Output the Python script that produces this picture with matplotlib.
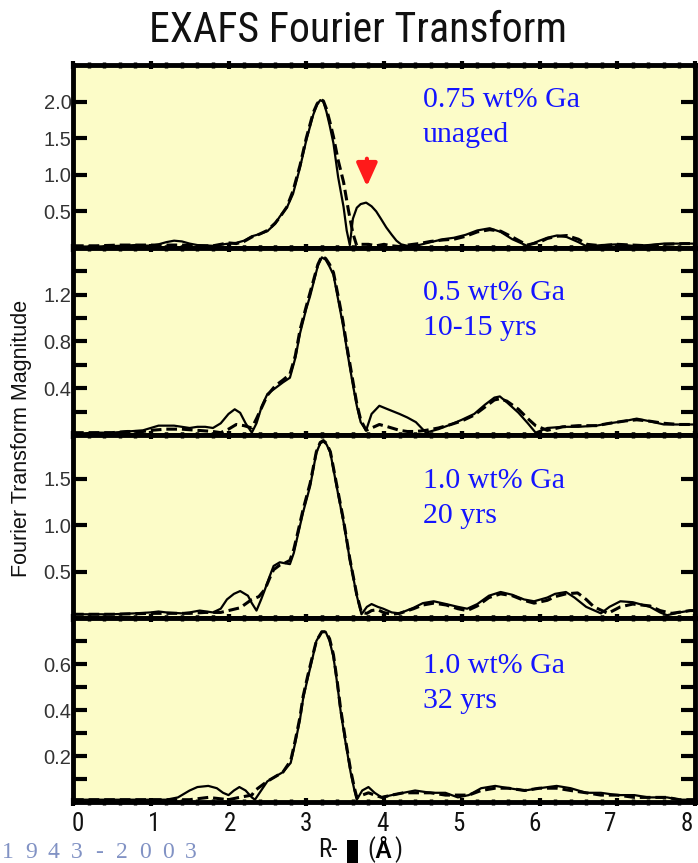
import matplotlib
matplotlib.use('Agg')
import matplotlib.pyplot as plt
from matplotlib.patches import Rectangle
from matplotlib import font_manager as fm
from matplotlib import transforms as mtrans

# ---------------- data ----------------
p1_r_solid = [0, 0.3, 0.6, 0.8, 1.0, 1.1, 1.2, 1.3, 1.4, 1.5, 1.6, 1.8, 2.0, 2.1, 2.2, 2.3, 2.4, 2.5, 2.6, 2.66,
              2.75, 2.83, 2.92, 3.0, 3.09, 3.14, 3.18, 3.22, 3.26, 3.3, 3.35, 3.41, 3.48, 3.52, 3.56, 3.6, 3.65,
              3.7, 3.77, 3.84, 3.9, 3.96, 4.03, 4.1, 4.16, 4.22, 4.3, 4.45, 4.6, 4.76, 4.9, 5.05, 5.2, 5.36, 5.5,
              5.65, 5.84, 6.0, 6.1, 6.22, 6.35, 6.5, 6.61, 6.8, 7.0, 7.2, 7.4, 7.6, 7.85, 8.0]
p1_m_solid = [0.02, 0.02, 0.03, 0.04, 0.03, 0.05, 0.08, 0.10, 0.09, 0.06, 0.04, 0.03, 0.06, 0.07, 0.10, 0.16, 0.19,
              0.23, 0.33, 0.43, 0.55, 0.74, 1.10, 1.47, 1.82, 1.96, 2.02, 2.00, 1.86, 1.68, 1.43, 0.97, 0.56, 0.24,
              0.04, 0.40, 0.55, 0.60, 0.62, 0.57, 0.50, 0.40, 0.28, 0.18, 0.10, 0.05, 0.03, 0.04, 0.08, 0.12, 0.14,
              0.18, 0.24, 0.27, 0.22, 0.12, 0.03, 0.10, 0.14, 0.17, 0.15, 0.08, 0.02, 0.04, 0.05, 0.03, 0.04, 0.06,
              0.06, 0.06]
p1_r_fit = [0, 0.3, 0.6, 0.8, 1.0, 1.2, 1.4, 1.6, 1.8, 2.0, 2.1, 2.2, 2.3, 2.4, 2.5, 2.6, 2.66, 2.75, 2.83, 2.92,
            3.0, 3.09, 3.14, 3.18, 3.22, 3.26, 3.3, 3.35, 3.41, 3.48, 3.54, 3.6, 3.65, 3.7, 3.8, 3.9, 4.0, 4.1, 4.2,
            4.3, 4.45, 4.6, 4.76, 4.9, 5.05, 5.2, 5.36, 5.5, 5.65, 5.84, 6.0, 6.1, 6.22, 6.35, 6.5, 6.61, 6.8, 7.0,
            7.2, 7.4, 7.6, 7.85, 8.0]
p1_m_fit = [0.03, 0.03, 0.04, 0.04, 0.04, 0.04, 0.04, 0.03, 0.03, 0.07, 0.06, 0.09, 0.15, 0.19, 0.24, 0.34, 0.42,
            0.56, 0.78, 1.13, 1.50, 1.85, 1.97, 2.03, 2.01, 1.90, 1.74, 1.52, 1.20, 0.90, 0.53, 0.20, 0.03, 0.05,
            0.05, 0.03, 0.05, 0.03, 0.02, 0.04, 0.06, 0.09, 0.11, 0.12, 0.16, 0.22, 0.25, 0.23, 0.15, 0.04, 0.08,
            0.13, 0.16, 0.17, 0.12, 0.05, 0.03, 0.05, 0.04, 0.03, 0.05, 0.06, 0.06]

p2_r_solid = [0, 0.3, 0.5, 0.7, 0.9, 1.0, 1.1, 1.2, 1.3, 1.4, 1.5, 1.6, 1.7, 1.8, 1.9, 2.0, 2.08, 2.15, 2.22, 2.3,
              2.36, 2.43, 2.5, 2.6, 2.7, 2.79, 2.86, 2.92, 3.0, 3.05, 3.1, 3.15, 3.2, 3.25, 3.3, 3.35, 3.41, 3.47,
              3.53, 3.6, 3.65, 3.7, 3.77, 3.84, 3.94, 4.05, 4.2, 4.3, 4.41, 4.54, 4.7, 4.86, 5.0, 5.16, 5.3, 5.42,
              5.49, 5.58, 5.73, 5.85, 5.95, 6.1, 6.3, 6.5, 6.73, 6.9, 7.1, 7.25, 7.4, 7.6, 7.8, 8.0]
p2_m_solid = [0.01, 0.02, 0.02, 0.03, 0.04, 0.06, 0.08, 0.08, 0.08, 0.07, 0.06, 0.07, 0.07, 0.06, 0.10, 0.18, 0.22,
              0.19, 0.10, 0.02, 0.10, 0.25, 0.35, 0.40, 0.45, 0.49, 0.66, 0.87, 1.08, 1.19, 1.32, 1.45, 1.52, 1.50,
              1.44, 1.37, 1.16, 0.95, 0.70, 0.43, 0.25, 0.11, 0.04, 0.18, 0.25, 0.22, 0.18, 0.15, 0.11, 0.02, 0.05,
              0.09, 0.13, 0.18, 0.26, 0.32, 0.33, 0.28, 0.19, 0.10, 0.02, 0.06, 0.07, 0.07, 0.08, 0.10, 0.12, 0.14,
              0.12, 0.09, 0.09, 0.09]
p2_r_fit = [0, 0.3, 0.5, 0.7, 0.9, 1.0, 1.2, 1.4, 1.6, 1.8, 1.9, 2.0, 2.1, 2.2, 2.3, 2.36, 2.43, 2.5, 2.6, 2.7,
            2.79, 2.86, 2.92, 3.0, 3.05, 3.1, 3.15, 3.2, 3.25, 3.3, 3.35, 3.41, 3.47, 3.53, 3.6, 3.65, 3.7, 3.77,
            3.84, 3.94, 4.05, 4.2, 4.3, 4.41, 4.54, 4.7, 4.86, 5.0, 5.16, 5.3, 5.42, 5.49, 5.58, 5.73, 5.85, 5.95,
            6.1, 6.3, 6.5, 6.73, 6.9, 7.1, 7.25, 7.4, 7.6, 7.8, 8.0]
p2_m_fit = [0.02, 0.02, 0.02, 0.03, 0.03, 0.04, 0.05, 0.05, 0.04, 0.03, 0.02, 0.05, 0.09, 0.08, 0.06, 0.14, 0.24,
            0.34, 0.42, 0.47, 0.52, 0.68, 0.90, 1.10, 1.22, 1.34, 1.46, 1.53, 1.51, 1.46, 1.39, 1.19, 0.98, 0.73,
            0.46, 0.27, 0.13, 0.04, 0.06, 0.09, 0.07, 0.04, 0.03, 0.03, 0.04, 0.06, 0.09, 0.12, 0.17, 0.24, 0.30,
            0.31, 0.29, 0.22, 0.14, 0.08, 0.04, 0.07, 0.08, 0.08, 0.10, 0.12, 0.13, 0.12, 0.10, 0.09, 0.09]

p3_r_solid = [0, 0.5, 0.8, 1.0, 1.1, 1.2, 1.4, 1.5, 1.63, 1.8, 1.9, 1.98, 2.07, 2.15, 2.25, 2.3, 2.36, 2.42, 2.47,
              2.53, 2.58, 2.66, 2.72, 2.79, 2.84, 2.88, 2.96, 3.05, 3.13, 3.18, 3.22, 3.26, 3.31, 3.39, 3.48, 3.56,
              3.65, 3.71, 3.78, 3.84, 3.92, 3.99, 4.1, 4.2, 4.38, 4.5, 4.64, 4.8, 4.95, 5.07, 5.2, 5.35, 5.5, 5.65,
              5.8, 5.93, 6.1, 6.2, 6.34, 6.45, 6.6, 6.79, 6.9, 7.04, 7.2, 7.42, 7.55, 7.64, 7.8, 7.94, 8.0]
p3_m_solid = [0.04, 0.04, 0.05, 0.06, 0.07, 0.06, 0.05, 0.06, 0.08, 0.06, 0.10, 0.20, 0.26, 0.29, 0.24, 0.16, 0.08,
              0.20, 0.31, 0.45, 0.56, 0.60, 0.59, 0.58, 0.70, 0.85, 1.14, 1.42, 1.78, 1.88, 1.90, 1.87, 1.78, 1.42,
              1.03, 0.63, 0.24, 0.04, 0.12, 0.15, 0.12, 0.10, 0.06, 0.05, 0.11, 0.16, 0.18, 0.15, 0.12, 0.10, 0.15,
              0.24, 0.28, 0.25, 0.20, 0.18, 0.22, 0.26, 0.28, 0.22, 0.12, 0.05, 0.12, 0.18, 0.17, 0.12, 0.06, 0.03,
              0.06, 0.08, 0.08]
p3_r_fit = [0, 0.5, 1.0, 1.2, 1.5, 1.7, 1.9, 2.0, 2.15, 2.3, 2.39, 2.47, 2.53, 2.58, 2.66, 2.72, 2.79, 2.84, 2.88,
            2.96, 3.05, 3.13, 3.18, 3.22, 3.26, 3.31, 3.39, 3.48, 3.56, 3.65, 3.71, 3.78, 3.84, 3.92, 3.99, 4.1,
            4.2, 4.38, 4.5, 4.64, 4.8, 4.95, 5.07, 5.2, 5.35, 5.5, 5.65, 5.8, 5.93, 6.1, 6.2, 6.34, 6.49, 6.6, 6.7,
            6.88, 7.04, 7.2, 7.42, 7.55, 7.7, 7.94, 8.0]
p3_m_fit = [0.04, 0.04, 0.05, 0.05, 0.05, 0.06, 0.06, 0.08, 0.11, 0.20, 0.23, 0.31, 0.43, 0.52, 0.57, 0.59, 0.62,
            0.74, 0.88, 1.17, 1.45, 1.79, 1.89, 1.91, 1.88, 1.79, 1.44, 1.05, 0.64, 0.25, 0.06, 0.05, 0.08, 0.09,
            0.06, 0.04, 0.05, 0.10, 0.14, 0.16, 0.14, 0.10, 0.08, 0.13, 0.22, 0.26, 0.24, 0.19, 0.16, 0.19, 0.23,
            0.26, 0.27, 0.20, 0.12, 0.05, 0.12, 0.15, 0.13, 0.08, 0.05, 0.08, 0.08]

p4_r_solid = [0, 0.5, 1.0, 1.2, 1.35, 1.5, 1.6, 1.74, 1.85, 1.93, 2.0, 2.07, 2.14, 2.22, 2.3, 2.34, 2.42, 2.5, 2.6,
              2.7, 2.8, 2.86, 2.92, 2.96, 3.02, 3.07, 3.13, 3.2, 3.25, 3.3, 3.35, 3.4, 3.44, 3.5, 3.57, 3.62, 3.65,
              3.72, 3.8, 3.88, 3.97, 4.1, 4.25, 4.4, 4.6, 4.79, 4.95, 5.09, 5.25, 5.43, 5.6, 5.81, 6.0, 6.22, 6.4,
              6.6, 6.79, 7.0, 7.22, 7.4, 7.64, 7.8, 8.0]
p4_m_solid = [0.01, 0.01, 0.01, 0.01, 0.02, 0.05, 0.065, 0.07, 0.06, 0.04, 0.03, 0.05, 0.065, 0.05, 0.02, 0.01,
              0.05, 0.09, 0.11, 0.13, 0.17, 0.26, 0.36, 0.45, 0.54, 0.61, 0.70, 0.74, 0.74, 0.70, 0.63, 0.51, 0.40,
              0.27, 0.13, 0.05, 0.01, 0.05, 0.065, 0.04, 0.02, 0.03, 0.04, 0.05, 0.04, 0.04, 0.02, 0.03, 0.06, 0.07,
              0.06, 0.05, 0.06, 0.07, 0.06, 0.04, 0.04, 0.03, 0.03, 0.02, 0.02, 0.01, 0.01]
p4_r_fit = [0, 1.0, 1.5, 1.74, 2.0, 2.14, 2.3, 2.34, 2.42, 2.5, 2.6, 2.7, 2.8, 2.86, 2.92, 2.96, 3.02, 3.07, 3.13,
            3.2, 3.25, 3.3, 3.35, 3.4, 3.44, 3.5, 3.57, 3.62, 3.65, 3.72, 3.8, 3.88, 3.97, 4.1, 4.25, 4.4, 4.6, 4.79,
            4.95, 5.09, 5.25, 5.43, 5.6, 5.81, 6.0, 6.22, 6.4, 6.6, 6.79, 7.0, 7.22, 7.4, 7.64, 7.8, 8.0]
p4_m_fit = [0.01, 0.01, 0.01, 0.02, 0.01, 0.02, 0.03, 0.05, 0.07, 0.09, 0.11, 0.13, 0.18, 0.27, 0.37, 0.46, 0.55,
            0.62, 0.70, 0.74, 0.74, 0.71, 0.64, 0.52, 0.41, 0.28, 0.14, 0.06, 0.02, 0.03, 0.04, 0.03, 0.02, 0.03,
            0.04, 0.04, 0.04, 0.03, 0.03, 0.03, 0.05, 0.06, 0.06, 0.05, 0.06, 0.06, 0.05, 0.04, 0.03, 0.03, 0.02,
            0.02, 0.02, 0.01, 0.01]

sample_labels = [("0.75 wt% Ga", "unaged"), ("0.5 wt% Ga", "10-15 yrs"),
                 ("1.0 wt% Ga", "20 yrs"), ("1.0 wt% Ga", "32 yrs")]
y_limits = [2.5, 1.6, 1.97, 0.8]
y_ticks = [[0.5, 1.0, 1.5, 2.0], [0.2, 0.4, 0.6, 0.8, 1.0, 1.2, 1.4],
           [0.5, 1.0, 1.5], [0.1, 0.2, 0.3, 0.4, 0.5, 0.6, 0.7]]
y_tick_labels = [["0.5", "1.0", "1.5", "2.0"], ["", "0.4", "", "0.8", "", "1.2", ""],
                 ["0.5", "1.0", "1.5"], ["", "0.2", "", "0.4", "", "0.6", ""]]
x_ticks = [0, 1, 2, 3, 4, 5, 6, 7, 8]
x_tick_labels = ["0", "1", "2", "3", "4", "5", "6", "7", "8"]
arrow_r, arrow_tip, arrow_tail = 3.78, 0.84, 1.22

title = "EXAFS Fourier Transform"
ylabel = "Fourier Transform Magnitude"
years = "1943-2003"

curves = [(p1_r_solid, p1_m_solid, p1_r_fit, p1_m_fit),
          (p2_r_solid, p2_m_solid, p2_r_fit, p2_m_fit),
          (p3_r_solid, p3_m_solid, p3_r_fit, p3_m_fit),
          (p4_r_solid, p4_m_solid, p4_r_fit, p4_m_fit)]

# ---------------- fonts ----------------
SANS = ['Liberation Sans', 'DejaVu Sans']
SERIF = ['Liberation Serif', 'DejaVu Serif']


def find_condensed():
    prefs = ['liberation sans narrow', 'arial narrow', 'roboto condensed', 'open sans condensed',
             'dejavu sans condensed', 'noto sans condensed']
    best = None
    for f in fm.fontManager.ttflist:
        nm = f.name.lower()
        st = str(f.stretch).lower()
        is_cond = ('narrow' in nm or 'condensed' in nm or 'condensed' in st)
        if not is_cond or f.style != 'normal':
            continue
        if 'bold' in str(f.weight).lower() or (isinstance(f.weight, int) and f.weight >= 600):
            continue
        if 'serif' in nm and 'sans' not in nm:
            continue
        rank = next((k for k, p in enumerate(prefs) if p in nm), len(prefs))
        if 'dejavu sans' in nm and 'condensed' in st:
            rank = min(rank, 4)
        if best is None or rank < best[0]:
            best = (rank, f.fname)
    return best[1] if best else None


cond_path = find_condensed()


def cond_props(size):
    if cond_path:
        return fm.FontProperties(fname=cond_path, size=size)
    return fm.FontProperties(family=SANS, size=size)


# ---------------- figure ----------------
W, H = 698, 863
fig = plt.figure(figsize=(W / 100, H / 100), dpi=100)


def fx(px):
    return px / W


def fy(py):
    return 1 - py / H


bounds = [(65, 248), (248, 435), (435, 618), (618, 802)]
left_px, right_px = 73, 695
panel_bg = '#fcfcc8'
axes = []

for i, ((t, b), (rs, ms, rf, mf)) in enumerate(zip(bounds, curves)):
    ax = fig.add_axes([fx(left_px), fy(b), fx(right_px - left_px), (b - t) / H])
    axes.append(ax)
    ax.set_facecolor(panel_bg)
    ax.plot(rs, ms, color='black', lw=1.6, solid_joinstyle='round', zorder=3)
    ax.plot(rf, mf, color='black', lw=2.2, dashes=(3.5, 1.6), zorder=3)
    ax.set_xlim(0, 8)
    ax.set_ylim(0, y_limits[i])
    for s in ax.spines.values():
        s.set_linewidth(3.5)
        s.set_zorder(5)
    ax.set_yticks(y_ticks[i])
    ax.set_yticklabels(y_tick_labels[i])
    ax.tick_params(axis='y', direction='in', length=10, width=3, left=True, right=True,
                   labelsize=14.5, labelcolor='#333333', pad=1)
    for lab in ax.get_yticklabels():
        lab.set_fontfamily(SANS)
    ax.set_xticks(x_ticks)
    ax.set_xticks([v / 5 for v in range(0, 41)], minor=True)
    ax.tick_params(axis='x', which='major', direction='inout', length=6, width=3,
                   top=True, bottom=True)
    ax.tick_params(axis='x', which='minor', direction='inout', length=4, width=2.5,
                   top=True, bottom=True)
    ax.set_xticklabels([])
    l1, l2 = sample_labels[i]
    base1 = [107, 300, 488, 673][i]
    fig.text(fx(423), fy(base1), l1, color='#1414ff', fontsize=21.5, family=SERIF, va='baseline')
    fig.text(fx(423), fy(base1 + 35), l2, color='#1414ff', fontsize=21.5, family=SERIF, va='baseline')
    if i == 0:
        ax.annotate('', xy=(arrow_r, arrow_tip), xytext=(arrow_r, arrow_tail),
                    arrowprops=dict(arrowstyle='-|>,head_length=1.0,head_width=0.45',
                                    color='#ff1a1a', lw=3, shrinkA=0, shrinkB=0,
                                    mutation_scale=14),
                    zorder=6)

# x tick labels on the bottom panel (spread slightly tighter than the ticks, as in the source)
axb = axes[-1]
for k, (v, lab) in enumerate(zip(x_ticks, x_tick_labels)):
    shift = 5 - 1.7 * k
    tr = mtrans.offset_copy(axb.get_xaxis_transform(), fig=fig, x=shift, y=-10, units='dots')
    axb.text(v, 0, lab, transform=tr, ha='center', va='top', color='#111111',
             fontproperties=cond_props(18), clip_on=False)

# title, width fitted to the reference
renderer = fig.canvas.get_renderer()
tsize = 29
tt = fig.text(fx(358), fy(30), title, ha='center', va='center', fontproperties=cond_props(tsize),
              color='#111111')
wpx = tt.get_window_extent(renderer).width
tsize = tsize * 418.0 / wpx
tt.set_fontproperties(cond_props(min(tsize, 31)))

# y label
fig.text(fx(22), fy(438), ylabel, rotation=90, ha='center', va='center', fontsize=15.5,
         family=SANS, color='#111111')

# x label: "R-" + black block + "(Å)"
fig.text(fx(338), fy(850), "R-", ha='right', va='center', fontproperties=cond_props(18), color='#111111')
fig.patches.append(Rectangle((fx(347), 0), fx(11), fy(840), transform=fig.transFigure,
                             facecolor='black', edgecolor='none'))
fig.text(fx(367), fy(850), "(", ha='left', va='center', fontproperties=cond_props(18), color='#111111')
fig.text(fx(374), fy(851), "Å", ha='left', va='center', fontsize=17, family=SANS,
         weight='bold', color='#000000')
fig.text(fx(394), fy(850), ")", ha='left', va='center', fontproperties=cond_props(18), color='#111111')

# year watermark
for k, ch in enumerate(years):
    fig.text(fx(8 + 22.8 * k), fy(858), ch, ha='center', va='baseline', fontsize=17,
             family=SERIF, color='#8192c4')

fig.savefig('out.png', dpi=100, facecolor='white')
